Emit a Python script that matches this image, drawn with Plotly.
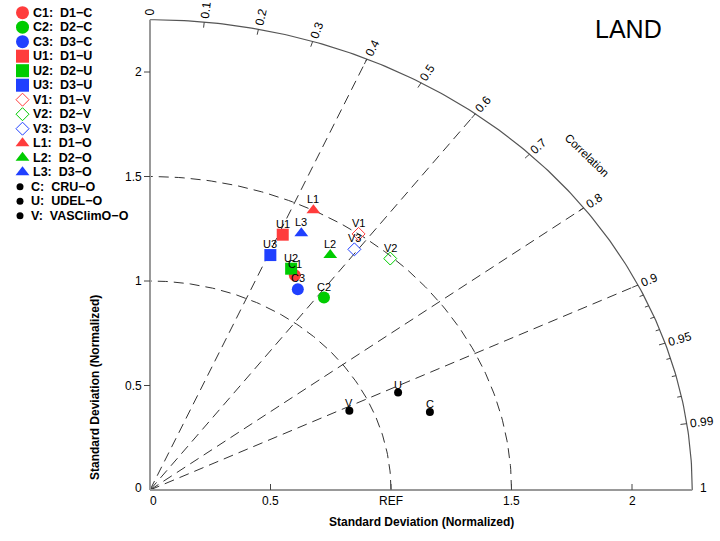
import math
import plotly.graph_objects as go

# ---------------- data ----------------
names = ["C1", "C2", "C3", "U1", "U2", "U3", "V1", "V2", "V3",
         "L1", "L2", "L3", "C", "U", "V"]
std_norm = [1.19, 1.17, 1.14, 1.34, 1.21, 1.23, 1.50, 1.49, 1.43,
            1.50, 1.35, 1.38, 1.22, 1.13, 0.91]
correlation = [0.505, 0.617, 0.538, 0.411, 0.484, 0.406, 0.577, 0.669, 0.593,
               0.452, 0.554, 0.455, 0.952, 0.911, 0.909]
legend_labels = ["C1:  D1−C", "C2:  D2−C", "C3:  D3−C",
                 "U1:  D1−U", "U2:  D2−U", "U3:  D3−U",
                 "V1:  D1−V", "V2:  D2−V", "V3:  D3−V",
                 "L1:  D1−O", "L2:  D2−O", "L3:  D3−O",
                 "C:  CRU−O", "U:  UDEL−O", "V:  VASClimO−O"]
x_tick_vals = [0, 0.5, 1, 1.5, 2]
x_tick_text = ["0", "0.5", "REF", "1.5", "2"]
y_tick_vals = [0, 0.5, 1, 1.5, 2]
y_tick_text = ["0", "0.5", "1", "1.5", "2"]
cor_major = [0.0, 0.1, 0.2, 0.3, 0.4, 0.5, 0.6, 0.7, 0.8, 0.9, 0.95, 0.99]
cor_major_text = ["0", "0.1", "0.2", "0.3", "0.4", "0.5", "0.6", "0.7", "0.8",
                  "0.9", "0.95", "0.99"]
cor_minor = [0.91, 0.92, 0.93, 0.94, 0.96, 0.97, 0.98]
cor_lines = [0.4, 0.6, 0.8, 0.9]
std_arcs = [1.0, 1.5]
R_MAX = 2.25

# ---------------- style ----------------
W, H = 720, 541
PXU, PYU = 241.0, 209.0      # pixels per unit (x, y)
X0, Y0 = 150.0, 490.0        # pixel of origin
XR = [-0.2, 2.33]
YR = [-0.15, 2.32]
RED, GREEN, BLUE, BLACK = "#ff3c3c", "#00cc00", "#2040ff", "#000000"
FONT = "Liberation Sans, Arial, sans-serif"
DASH = "10px,6px"

def style_of(name):
    col = {"1": RED, "2": GREEN, "3": BLUE}.get(name[-1], BLACK)
    if len(name) == 1:
        return dict(symbol="circle", color=BLACK, size=8, line=dict(width=0))
    sym = {"C": "circle", "U": "square", "V": "diamond-open", "L": "triangle-up"}[name[0]]
    size = {"C": 12, "U": 12, "V": 10, "L": 12}[name[0]]
    lw = 1 if name[0] == "V" else 0
    return dict(symbol=sym, color=col, size=size, line=dict(width=lw, color=col))

fig = go.Figure()

def add_line(xs, ys, color, width, dash="solid"):
    fig.add_trace(go.Scatter(x=xs, y=ys, mode="lines", hoverinfo="skip",
                             line=dict(color=color, width=width, dash=dash),
                             showlegend=False))

# dashed std arcs
for r in std_arcs:
    n = 120
    ang = [i * (math.pi / 2) / n for i in range(n + 1)]
    add_line([r * math.cos(a) for a in ang], [r * math.sin(a) for a in ang], "#333333", 1, DASH)

# dashed correlation lines
for c in cor_lines:
    a = math.acos(c)
    add_line([0, R_MAX * math.cos(a)], [0, R_MAX * math.sin(a)], "#333333", 1, DASH)

# outer arc
n = 200
ang = [i * (math.pi / 2) / n for i in range(n + 1)]
add_line([R_MAX * math.cos(a) for a in ang], [R_MAX * math.sin(a) for a in ang], "#555555", 1.2)

# axes lines
add_line([0, R_MAX], [0, 0], "#999999", 2)
add_line([0, 0], [0, R_MAX], "#999999", 2)

# axis ticks
tx, ty = [], []
for v in x_tick_vals[1:]:
    tx += [v, v, None]
    ty += [0, 6 / PYU, None]
for v in y_tick_vals[1:]:
    tx += [0, -6 / PXU, None]
    ty += [v, v, None]
add_line(tx, ty, "#444444", 1)

# correlation ticks
cx, cy = [], []
for c, ln in [(c, 6) for c in cor_major[1:]] + [(c, 4) for c in cor_minor]:
    a = math.acos(c)
    d = ln / ((PXU + PYU) / 2)
    cx += [R_MAX * math.cos(a), (R_MAX - d) * math.cos(a), None]
    cy += [R_MAX * math.sin(a), (R_MAX - d) * math.sin(a), None]
add_line(cx, cy, "#444444", 1)

annotations = []
CEN = dict(xanchor="center", yanchor="middle")

# correlation labels
for c, t in zip(cor_major, cor_major_text):
    a = math.acos(c)
    ts = math.atan2(math.sin(a) * PYU, math.cos(a) * PXU)
    w = 6.7 * sum(ch.isdigit() for ch in t) + 3.3 * t.count(".")
    d = 4 + w / 2
    annotations.append(dict(x=R_MAX * math.cos(a), y=R_MAX * math.sin(a), xref="x", yref="y",
                            text=t, showarrow=False, textangle=-math.degrees(ts),
                            xshift=d * math.cos(ts), yshift=d * math.sin(ts), **CEN,
                            font=dict(family=FONT, size=12, color="black")))
annotations.append(dict(x=R_MAX, y=0, xref="x", yref="y", text="1", showarrow=False,
                        xshift=11, yshift=2, **CEN, font=dict(family=FONT, size=12, color="black")))

# x / y tick labels
for v, t in zip(x_tick_vals, x_tick_text):
    annotations.append(dict(x=v, y=0, xref="x", yref="y", text=t, showarrow=False,
                            yshift=-11, xshift=3 if v == 0 else 0, **CEN,
                            font=dict(family=FONT, size=12, color="black")))
for v, t in zip(y_tick_vals, y_tick_text):
    annotations.append(dict(x=0, y=v, xref="x", yref="y", text=t, showarrow=False,
                            xanchor="right", yanchor="middle", xshift=-6, yshift=2 if v == 0 else 0,
                            font=dict(family=FONT, size=12, color="black")))

# points
for nm, s, c in zip(names, std_norm, correlation):
    a = math.acos(c)
    x, y = s * math.cos(a), s * math.sin(a)
    st = style_of(nm)
    fig.add_trace(go.Scatter(x=[x], y=[y], mode="markers", showlegend=False, hoverinfo="skip",
                             marker=dict(symbol=st["symbol"], color=st["color"], size=st["size"],
                                         line=st["line"]), cliponaxis=False))
    annotations.append(dict(x=x, y=y, xref="x", yref="y", text=nm, showarrow=False,
                            yshift=8 if len(nm) == 1 else 11, **CEN,
                            font=dict(family=FONT, size=11, color="black")))

# legend (own pixel-scaled axes)
for i, (nm, lab) in enumerate(zip(names, legend_labels)):
    ypx = 12.7 + i * 14.5
    st = style_of(nm)
    if len(nm) == 1:
        mx, tx0, size = 20, 29, 7
    else:
        mx, tx0, size = 22.5, 31, {"circle": 13, "square": 13, "diamond-open": 10,
                                    "triangle-up": 12}[st["symbol"]]
    fig.add_trace(go.Scatter(x=[mx], y=[ypx], xaxis="x2", yaxis="y2", mode="markers",
                             showlegend=False, hoverinfo="skip", cliponaxis=False,
                             marker=dict(symbol=st["symbol"], color=st["color"], size=size,
                                         line=st["line"])))
    annotations.append(dict(x=tx0, y=ypx, xref="x2", yref="y2",
                            text="<b>" + lab.replace("  ", "\u00a0\u00a0") + "</b>",
                            showarrow=False, xanchor="left", yanchor="middle",
                            font=dict(family=FONT, size=12.5, color="black")))

# titles
annotations += [
    dict(x=628 / W, y=1 - 29 / H, xref="paper", yref="paper", text="LAND", showarrow=False,
         **CEN, font=dict(family=FONT, size=25, color="black")),
    dict(x=1.812, y=1.603, xref="x", yref="y", text="Correlation", showarrow=False,
         textangle=44, **CEN, font=dict(family=FONT, size=11.5, color="black")),
    dict(x=421 / W, y=1 - 522 / H, xref="paper", yref="paper",
         text="<b>Standard Deviation (Normalized)</b>", showarrow=False, **CEN,
         font=dict(family=FONT, size=12, color="black")),
    dict(x=95 / W, y=1 - 388 / H, xref="paper", yref="paper",
         text="<b>Standard Deviation (Normalized)</b>", showarrow=False, textangle=-90,
         **CEN, font=dict(family=FONT, size=12, color="black")),
]

xdom = [(X0 + XR[0] * PXU) / W, (X0 + XR[1] * PXU) / W]
ydom = [(H - (Y0 - YR[0] * PYU)) / H, (H - (Y0 - YR[1] * PYU)) / H]
hidden = dict(showgrid=False, zeroline=False, showline=False, showticklabels=False, ticks="")

fig.update_layout(
    width=W, height=H, autosize=False,
    margin=dict(l=0, r=0, t=0, b=0),
    paper_bgcolor="white", plot_bgcolor="white",
    xaxis=dict(domain=xdom, range=XR, **hidden),
    yaxis=dict(domain=ydom, range=YR, **hidden),
    xaxis2=dict(domain=[0, 100 / W], range=[0, 100], anchor="y2", **hidden),
    yaxis2=dict(domain=[0, 1], range=[H, 0], anchor="x2", **hidden),
    annotations=annotations,
    showlegend=False,
)

fig.write_html("out.html")
